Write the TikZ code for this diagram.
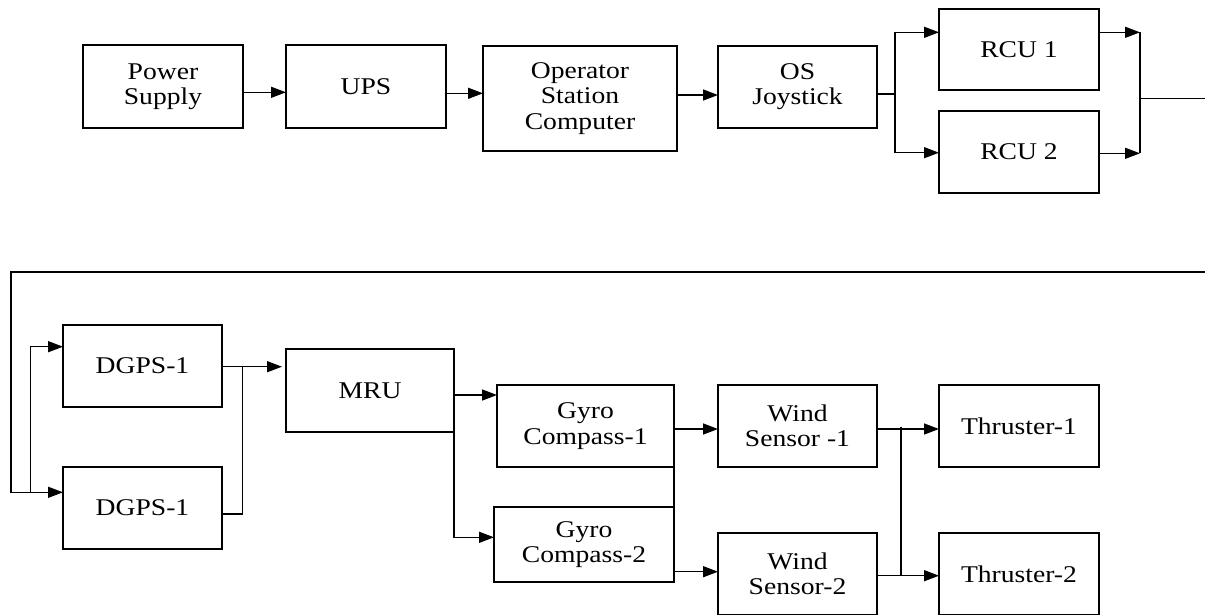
\documentclass[tikz,border=0pt]{standalone}
\usepackage{fontspec}
\setmainfont{Liberation Serif}[FakeStretch=1.15]
\usetikzlibrary{arrows.meta,calc}

\begin{document}
\begin{tikzpicture}[x=1pt,y=-1pt,
  box/.style={draw, line width=1.5pt, inner sep=0pt, outer sep=0pt, align=center,
              font=\fontsize{24}{25.5}\selectfont},
  link/.style={line width=1.5pt},
  arr/.style={link, -{Triangle[length=15pt,width=11pt]}}]

\useasboundingbox (0,0) rectangle (1205,614);
\clip (0,0) rectangle (1205,614);

% ---- upper chain ----
\node[box, minimum width=160pt, minimum height=83pt]  (ps)   at (163,86.5)   {Power\\Supply};
\node[box, minimum width=160pt, minimum height=83pt]  (ups)  at (366,86.5)   {UPS};
\node[box, minimum width=194pt, minimum height=105pt] (osc)  at (580,98.3)   {Operator\\Station\\Computer};
\node[box, minimum width=159pt, minimum height=82pt]  (osj)  at (797.5,86.8) {OS\\Joystick};
\node[box, minimum width=160pt, minimum height=81pt]  (rcu1) at (1019,49.5)  {RCU 1};
\node[box, minimum width=160pt, minimum height=82pt]  (rcu2) at (1019,152)   {RCU 2};

% ---- lower chain ----
\node[box, minimum width=159pt, minimum height=82pt]  (dg1)  at (142.5,366)  {DGPS-1};
\node[box, minimum width=159pt, minimum height=82pt]  (dg2)  at (142.5,508)  {DGPS-1};
\node[box, minimum width=168pt, minimum height=83pt]  (mru)  at (370,390.5)  {MRU};
\node[box, minimum width=177pt, minimum height=82pt]  (gy1)  at (585.5,426)  {Gyro\\Compass-1};
\node[box, minimum width=180pt, minimum height=75pt]  (gy2)  at (584,544.5)  {Gyro\\Compass-2};
\node[box, minimum width=159pt, minimum height=82pt]  (ws1)  at (797.5,426)  {Wind\\Sensor -1};
\node[box, minimum width=159pt, minimum height=82pt]  (ws2)  at (797.5,574)  {Wind\\Sensor-2};
\node[box, minimum width=160pt, minimum height=82pt]  (th1)  at (1019,426)   {Thruster-1};
\node[box, minimum width=160pt, minimum height=82pt]  (th2)  at (1019,574)   {Thruster-2};

% ---- junction points ----
\coordinate (jA)  at (895,94);
\coordinate (b1)  at (1140,32.3);
\coordinate (b2)  at (1140,153.3);
\coordinate (jB)  at (1140,98.3);
\coordinate (outR) at (1205,98.3);
\coordinate (tR)  at (1205,272);
\coordinate (tL)  at (11,272);
\coordinate (c2)  at (30.7,492.3);
\coordinate (d1)  at (242.3,366.7);
\coordinate (w1)  at (901,426.7);
\coordinate (w2)  at (901,575.7);

% ---- upper connectors ----
\draw[arr] ($(ps.east)+(0,5.8)$)  -- ($(ups.west)+(0,5.8)$);
\draw[arr] ($(ups.east)+(0,6.8)$) -- ($(osc.west)+(0,-5)$);
\draw[arr] ($(osc.east)+(0,-3.3)$) -- ($(osj.west)+(0,8.2)$);
\draw[link] ($(osj.east)+(0,7.2)$) -- (jA);
\draw[arr] (jA) |- ($(rcu1.west)+(0,-17.2)$);
\draw[arr] (jA) |- ($(rcu2.west)+(0,0.7)$);
\draw[arr] (rcu1.east |- b1) -- (b1);
\draw[arr] (rcu2.east |- b2) -- (b2);
\draw[link] (b1) -- (b2);
\draw[link] (jB) -- (outR);

% ---- return line into the lower chain ----
\draw[arr] (tR) -- (tL) |- ($(dg2.west)+(0,-15.7)$);
\draw[arr] (c2) |- ($(dg1.west)+(0,-19.3)$);

% ---- lower connectors ----
\draw[arr, shorten >=4pt] ($(dg1.east)+(0,0.7)$) -- ($(mru.west)+(0,-23.8)$);
\draw[link] ($(dg2.east)+(0,6)$) -| (d1);
\draw[arr] ($(mru.east)+(0,4.5)$) -- ($(gy1.west)+(0,-31)$);
\draw[arr] ($(mru.east)+(0,4.5)$) |- ($(gy2.west)+(0,-7.2)$);
\draw[link] (gy1.south east) -- (gy2.north east);
\draw[arr] ($(gy1.east)+(0,3)$) -- ($(ws1.west)+(0,3)$);
\draw[arr] ($(gy2.east)+(0,27.2)$) -- ($(ws2.west)+(0,-2.3)$);
\draw[arr] ($(ws1.east)+(0,3)$) -- ($(th1.west)+(0,3)$);
\draw[arr] ($(ws2.east)+(0,1.7)$) -- ($(th2.west)+(0,1.7)$);
\draw[link] (w1) -- (w2);

\end{tikzpicture}
\end{document}
